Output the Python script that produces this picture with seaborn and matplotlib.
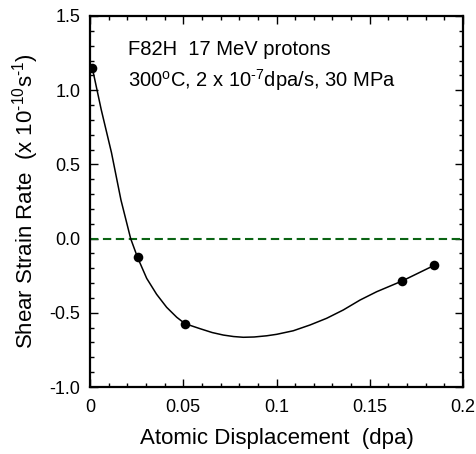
import matplotlib
matplotlib.use("Agg")
import matplotlib.pyplot as plt
import seaborn as sns
import pandas as pd
from matplotlib.ticker import MultipleLocator, FixedLocator

# measured data points
dpa = [0.0012, 0.0255, 0.0509, 0.1673, 0.1846]
rate = [1.152, -0.127, -0.573, -0.286, -0.180]

# fitted curve
curve_x = [0.0012, 0.006, 0.0115, 0.0166, 0.0218, 0.0255, 0.0304, 0.0357, 0.0411,
           0.0465, 0.0509, 0.059, 0.0655, 0.0715, 0.0770, 0.0822, 0.0880, 0.0947,
           0.1001, 0.109, 0.118, 0.1269, 0.1358, 0.1448, 0.1537, 0.1673, 0.1846]
curve_y = [1.152, 0.87, 0.58, 0.26, 0.0, -0.127, -0.268, -0.375, -0.463,
           -0.530, -0.573, -0.607, -0.633, -0.650, -0.660, -0.665, -0.663, -0.655,
           -0.645, -0.621, -0.582, -0.537, -0.481, -0.414, -0.358, -0.286, -0.180]

x_ticks = [0, 0.05, 0.1, 0.15, 0.2]
x_tick_labels = ["0", "0.05", "0.1", "0.15", "0.2"]
y_ticks = [-1.0, -0.5, 0.0, 0.5, 1.0, 1.5]
y_tick_labels = ["-1.0", "-0.5", "0.0", "0.5", "1.0", "1.5"]

sns.set_theme(style="ticks")
plt.rcParams["font.family"] = ["Liberation Sans", "DejaVu Sans"]
plt.rcParams["mathtext.fontset"] = "custom"
plt.rcParams["mathtext.rm"] = "Liberation Sans"
plt.rcParams["mathtext.it"] = "Liberation Sans:italic"
plt.rcParams["text.color"] = "black"
plt.rcParams["axes.labelcolor"] = "black"
plt.rcParams["axes.unicode_minus"] = False

fig = plt.figure(figsize=(4.76, 4.54), dpi=100)
ax = fig.add_axes([90/476, 1-387/454, (463-90)/476, (387-16)/454])

df_curve = pd.DataFrame({"x": curve_x, "y": curve_y})
df_pts = pd.DataFrame({"x": dpa, "y": rate})

ax.axhline(0.0, color="#0b6414", lw=1.5, ls=(0, (4, 2.2)), zorder=1)
sns.lineplot(data=df_curve, x="x", y="y", ax=ax, color="black", lw=1.1,
             sort=False, estimator=None, zorder=2)
sns.scatterplot(data=df_pts, x="x", y="y", ax=ax, color="black", s=48,
                edgecolor="black", linewidth=0, zorder=3)

ax.set_xlim(0, 0.2)
ax.set_ylim(-1.0, 1.5)
ax.xaxis.set_major_locator(FixedLocator(x_ticks))
ax.set_xticklabels(x_tick_labels)
ax.yaxis.set_major_locator(FixedLocator(y_ticks))
ax.set_yticklabels(y_tick_labels)
ax.xaxis.set_minor_locator(MultipleLocator(0.01))
ax.yaxis.set_minor_locator(MultipleLocator(0.1))
ax.tick_params(which="both", direction="in", top=True, right=True, labelsize=13,
               colors="black", width=1.0)
ax.tick_params(axis="x", which="major", pad=9)
ax.tick_params(axis="y", which="major", pad=7)
ax.tick_params(which="major", length=6)
ax.tick_params(which="minor", length=3)
for s in ax.spines.values():
    s.set_linewidth(1.6)
    s.set_color("black")

ax.set_xlabel("Atomic Displacement  (dpa)", fontsize=16, labelpad=8)
ax.set_ylabel("Shear Strain Rate  (x 10$^{\\mathregular{\u201010}}$s$^{\\mathregular{\u20101}}$)",
              fontsize=16, labelpad=6)

ax.text(0.0205, 1.24, "F82H  17 MeV protons", fontsize=14.5, va="baseline", ha="left")
ax.text(0.0205, 1.02,
        "300$^{\\mathregular{o}}$C, 2 x 10$^{\\mathregular{\u20107}}$dpa/s, 30 MPa",
        fontsize=14.5, va="baseline", ha="left")

fig.savefig("out.png", dpi=100)
